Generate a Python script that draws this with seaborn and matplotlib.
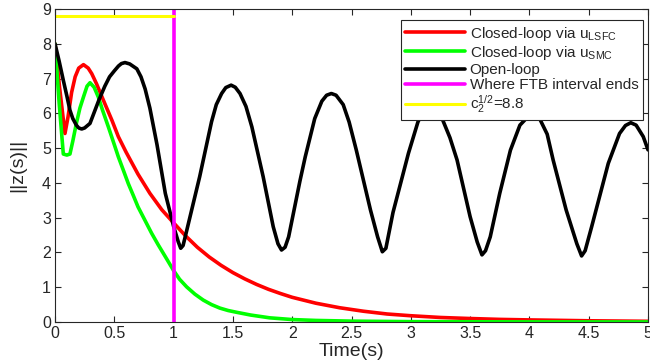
import numpy as np
import matplotlib
matplotlib.use("Agg")
import matplotlib.pyplot as plt
import seaborn as sns

# values
t_lsfc = [0.00, 0.04, 0.084, 0.11, 0.14, 0.17, 0.20, 0.24, 0.28, 0.31, 0.35,
          0.42, 0.48, 0.534, 0.60, 0.70, 0.80, 0.90, 1.00, 1.10, 1.20, 1.30,
          1.40, 1.50, 1.60, 1.70, 1.80, 1.90, 2.00, 2.20, 2.40, 2.60, 2.80,
          3.00, 3.25, 3.50, 3.75, 4.00, 4.50, 5.00]
z_lsfc = [8.00, 6.70, 5.42, 5.90, 6.60, 7.05, 7.30, 7.40, 7.30, 7.14, 6.85,
          6.28, 5.80, 5.33, 4.88, 4.25, 3.70, 3.23, 2.85, 2.48, 2.15, 1.87,
          1.63, 1.42, 1.24, 1.08, 0.94, 0.82, 0.71, 0.54, 0.41, 0.31, 0.23,
          0.18, 0.13, 0.10, 0.075, 0.06, 0.035, 0.02]

t_smc = [0.00, 0.035, 0.07, 0.10, 0.126, 0.15, 0.18, 0.21, 0.24, 0.27, 0.295,
         0.33, 0.365, 0.40, 0.45, 0.50, 0.534, 0.58, 0.618, 0.66, 0.70, 0.75,
         0.815, 0.87, 0.93, 1.00, 1.05, 1.11, 1.18, 1.25, 1.32, 1.39, 1.46,
         1.53, 1.65, 1.81, 2.00, 2.20, 2.50, 3.00, 4.00, 5.00]
z_smc = [8.00, 6.30, 4.83, 4.80, 4.83, 5.20, 5.71, 6.15, 6.47, 6.78, 6.88,
         6.75, 6.47, 6.10, 5.61, 5.10, 4.75, 4.33, 3.98, 3.64, 3.31, 2.98,
         2.55, 2.22, 1.88, 1.48, 1.23, 1.01, 0.80, 0.63, 0.50, 0.40, 0.33,
         0.28, 0.20, 0.12, 0.07, 0.045, 0.025, 0.01, 0.003, 0.001]

t_open = [0.00, 0.035, 0.07, 0.10, 0.126, 0.15, 0.18, 0.20, 0.225, 0.25, 0.295,
          0.37, 0.42, 0.46, 0.50, 0.535, 0.56, 0.59, 0.63, 0.69, 0.725, 0.76,
          0.80, 0.86, 0.93, 1.00, 1.04, 1.06, 1.08, 1.105, 1.22, 1.32, 1.36,
          1.405, 1.44, 1.485, 1.52, 1.56, 1.61, 1.66, 1.755, 1.84, 1.88, 1.91,
          1.94, 1.97, 2.065, 2.11, 2.19, 2.25, 2.29, 2.33, 2.37, 2.43, 2.48,
          2.54, 2.66, 2.72, 2.76, 2.79, 2.85, 2.98, 3.06, 3.11, 3.16, 3.21,
          3.27, 3.33, 3.39, 3.50, 3.56, 3.60, 3.63, 3.67, 3.75, 3.84, 3.92,
          3.97, 4.03, 4.09, 4.15, 4.20, 4.31, 4.40, 4.44, 4.47, 4.525, 4.665,
          4.76, 4.81, 4.855, 4.90, 4.96, 5.00]
z_open = [8.00, 7.50, 6.95, 6.50, 6.09, 5.85, 5.66, 5.58, 5.55, 5.58, 5.71,
          6.38, 6.78, 7.05, 7.22, 7.36, 7.43, 7.46, 7.42, 7.28, 7.05, 6.70,
          6.15, 5.10, 3.70, 2.75, 2.30, 2.12, 2.20, 2.55, 4.18, 5.76, 6.25,
          6.57, 6.74, 6.81, 6.75, 6.57, 6.20, 5.61, 4.18, 2.74, 2.25, 2.07,
          2.15, 2.45, 4.05, 4.75, 5.85, 6.35, 6.52, 6.57, 6.52, 6.25, 5.75,
          4.95, 3.22, 2.45, 2.02, 2.12, 3.15, 4.85, 5.75, 6.10, 6.22, 6.12,
          5.80, 5.30, 4.66, 3.03, 2.30, 1.93, 2.05, 2.45, 3.70, 4.94, 5.66,
          5.84, 5.89, 5.82, 5.40, 4.66, 3.22, 2.25, 1.90, 2.05, 2.74, 4.56,
          5.42, 5.65, 5.73, 5.66, 5.33, 4.95]

t_ftb = 1.0        # end of the FTB interval
c2_sqrt = 8.8      # c_2^{1/2}

labels = [r'Closed-loop via u$_\mathregular{LSFC}$',
          r'Closed-loop via u$_\mathregular{SMC}$',
          'Open-loop',
          'Where FTB interval ends',
          r'c$_\mathregular{2}^\mathregular{1/2}$=8.8']

sns.set_style("ticks")
plt.rcParams['font.family'] = ['Liberation Sans', 'DejaVu Sans']
plt.rcParams['mathtext.default'] = 'regular'

fig = plt.figure(figsize=(6.5, 3.64), dpi=100)
ax = fig.add_axes([55 / 650, 42 / 364, 593 / 650, 313 / 364])

lw = 2.6
sns.lineplot(x=t_lsfc, y=z_lsfc, ax=ax, color='#ff0000', linewidth=lw, label=labels[0])
sns.lineplot(x=t_smc, y=z_smc, ax=ax, color='#00ff00', linewidth=lw, label=labels[1])
sns.lineplot(x=t_open, y=z_open, ax=ax, color='black', linewidth=lw, label=labels[2])
ax.axvline(t_ftb, color='#ff00ff', linewidth=2.6, label=labels[3])
sns.lineplot(x=[0, t_ftb], y=[c2_sqrt, c2_sqrt], ax=ax, color='#ffff00', linewidth=2.2,
             label=labels[4])

ax.set_xlim(0, 5)
ax.set_ylim(0, 9)
ax.set_xticks(np.arange(0, 5.01, 0.5))
ax.set_xticklabels(['0', '0.5', '1', '1.5', '2', '2.5', '3', '3.5', '4', '4.5', '5'])
ax.set_yticks(range(0, 10))

edge = '#262626'
for s in ax.spines.values():
    s.set_visible(True)
    s.set_color(edge)
    s.set_linewidth(0.8)
ax.tick_params(direction='in', length=4, width=0.8, color=edge, labelcolor=edge,
               labelsize=11.5, top=True, right=True, pad=3)

ax.set_xlabel('Time(s)', fontsize=14, color=edge, labelpad=1)
ax.set_ylabel('||z(s)||', fontsize=14, color=edge, labelpad=11)

leg = ax.legend(loc='upper right', bbox_to_anchor=((643 - 55) / 593, (322 - 20) / 313),
                borderaxespad=0, fontsize=11, handlelength=3.9, handletextpad=0.3,
                labelspacing=0.08, borderpad=0.3, fancybox=False, framealpha=1,
                edgecolor=edge)
leg.get_frame().set_linewidth(0.8)

fig.savefig('out.png', dpi=100)
plt.close(fig)
